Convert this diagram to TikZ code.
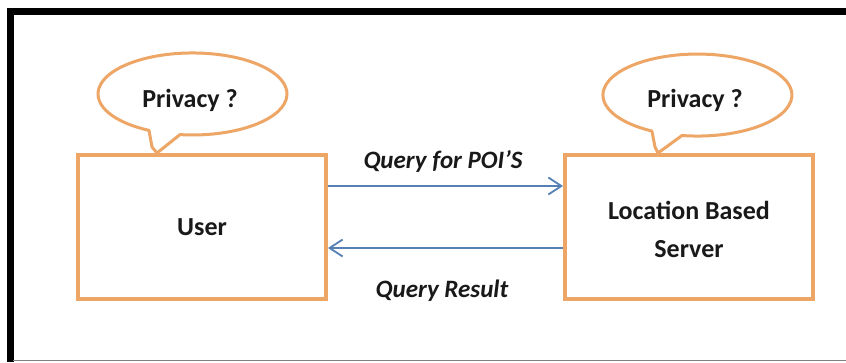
\documentclass[tikz,border=0pt]{standalone}
\usepackage{fontspec}
\setmainfont{Carlito}
\usetikzlibrary{arrows.meta}
\definecolor{boxorange}{RGB}{238,166,102}
\definecolor{arrowblue}{RGB}{84,128,180}
\definecolor{txt}{RGB}{25,25,25}
\tikzset{
  boxnode/.style={draw=boxorange, line width=4pt, minimum width=248pt, minimum height=144pt, inner sep=0pt, fill=white},
  bubble/.style={draw=boxorange, line width=3pt, fill=white, line join=round},
  lbl/.style={text=txt, font=\fontsize{26}{38}\selectfont\bfseries, align=center, inner sep=0pt},
  qlbl/.style={text=txt, font=\fontsize{25}{30}\selectfont\bfseries\itshape, inner sep=0pt},
  msg/.style={draw=arrowblue, line width=1.8pt, -{Straight Barb[length=13pt,width=17pt,line width=1.8pt]}}
}
\begin{document}
\begin{tikzpicture}[x=1pt,y=-1pt]
\useasboundingbox (0,0) rectangle (846,362);
\fill[white] (0,0) rectangle (846,362);
% frame
\draw[black, line width=7pt] (846,11.5) -- (10,11.5) -- (10,362);
\draw[gray, line width=1.5pt] (13,360.5) -- (846,360.5);
% boxes
\node[boxnode] (user) at (202,227) {};
\node[boxnode] (server) at (689,227) {};
\node[lbl] (usertext) at (user.center) {User};
\node[lbl] (servertext) at (689,229) {Location Based\\Server};
% bubbles
\draw[bubble] (180,134.6) arc[start angle=-97.6, end angle=242.6, x radius=94.5pt, y radius=41pt]
  -- (152,147) -- (157,153) -- cycle;
\draw[bubble] (682,135.5) arc[start angle=-99.4, end angle=241.2, x radius=94.5pt, y radius=41pt]
  -- (655,147) -- (658,153) -- cycle;
\node[lbl] (p1) at (190,100) {Privacy ?};
\node[lbl] (p2) at (695,100) {Privacy ?};
% messages
\draw[msg] ([yshift=41pt]user.east) -- ([yshift=41pt]server.west);
\draw[msg] ([yshift=-21pt]server.west) -- ([yshift=-21pt]user.east);
\node[qlbl] (q1) at (443,161) {Query for POI'S};
\node[qlbl] (q2) at (442,291) {Query Result};
\end{tikzpicture}
\end{document}
